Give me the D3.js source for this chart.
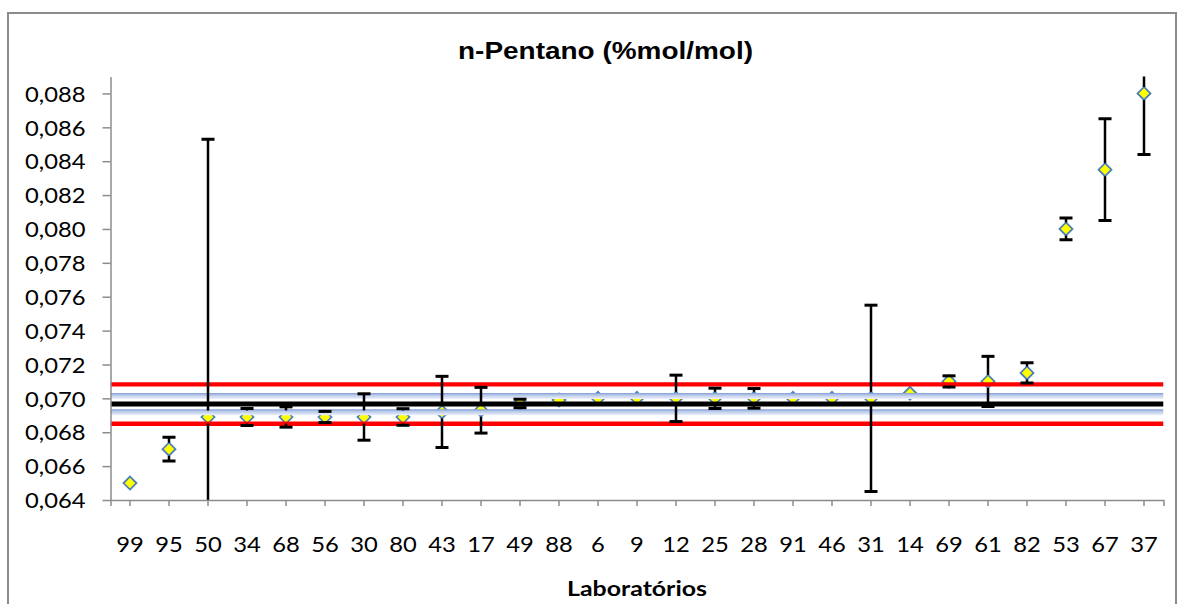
<!DOCTYPE html>
<html>
<head>
<meta charset="utf-8">
<script src="https://cdn.jsdelivr.net/npm/d3@7"></script>
<style>
  html, body { margin: 0; padding: 0; background: #fff; }
  svg { display: block; }
</style>
</head>
<body>
<svg id="chart" width="1178" height="604"></svg>
<script>
// Laboratory codes in plotted order
const labs = ["99","95","50","34","68","56","30","80","43","17","49","88","6","9","12",
              "25","28","91","46","31","14","69","61","82","53","67","37"];
// Reported n-pentane results (%mol/mol)
const results = [0.0650,0.0670,0.0689,0.0689,0.0689,0.0689,0.0689,0.0689,0.0692,0.0693,
                 0.0697,0.0699,0.0700,0.0700,0.0700,0.0700,0.0700,0.0700,0.0700,0.0700,
                 0.0703,0.0710,0.0710,0.0715,0.0800,0.0835,0.0880];
// Expanded uncertainty of each result
const uncert = [0,0.0007,0.0164,0.0005,0.0006,0.00033,0.00137,0.00049,0.0021,0.00135,
                0.00025,0,0,0,0.00137,0.0006,0.00058,0,0,0.0055,
                0,0.00033,0.00148,0.0006,0.00064,0.0030,0.0036];
// Assigned value and its limits
const refMean = 0.06966;
const refInner = [0.06918, 0.07014];
const refOuter = [0.0685, 0.07082];
// Axis ticks
const yTicks = [0.064,0.066,0.068,0.070,0.072,0.074,0.076,0.078,0.080,0.082,0.084,0.086,0.088];
const yDomain = [0.064, 0.089];

const svg = d3.select("#chart");
const plot = { left: 110.5, right: 1163.5, top: 76.5, bottom: 500 };

const x = d3.scaleBand().domain(labs).range([plot.left, plot.right]).padding(0);
const y = d3.scaleLinear().domain(yDomain).range([plot.bottom, plot.top]);
const cx = d => x(d) + x.bandwidth() / 2;

// Outer chart frame
svg.append("rect")
  .attr("x", 8).attr("y", 13).attr("width", 1168).attr("height", 640)
  .attr("fill", "#fff").attr("stroke", "#8c8c8c").attr("stroke-width", 2);

const defs = svg.append("defs");
defs.append("clipPath").attr("id", "plotClip")
  .append("rect")
  .attr("x", plot.left).attr("y", plot.top)
  .attr("width", plot.right - plot.left).attr("height", plot.bottom - plot.top);
const grad = defs.append("linearGradient").attr("id", "limitGrad")
  .attr("x1", 0).attr("y1", 0).attr("x2", 0).attr("y2", 1);
grad.append("stop").attr("offset", "0%").attr("stop-color", "#7f9cd2");
grad.append("stop").attr("offset", "35%").attr("stop-color", "#b7c8ea");
grad.append("stop").attr("offset", "100%").attr("stop-color", "#eef2fa");

// Title
svg.append("text")
  .attr("x", 605.5).attr("y", 59)
  .attr("text-anchor", "middle")
  .attr("font-family", "Liberation Sans, Arial, sans-serif")
  .attr("font-weight", "bold").attr("font-size", 23)
  .attr("textLength", 295).attr("lengthAdjust", "spacingAndGlyphs")
  .text("n-Pentano (%mol/mol)");

// Axis title
svg.append("text")
  .attr("x", 637).attr("y", 596)
  .attr("text-anchor", "middle")
  .attr("font-family", "Lato, sans-serif")
  .attr("font-weight", "bold").attr("font-size", 20)
  .attr("textLength", 140).attr("lengthAdjust", "spacingAndGlyphs")
  .text("Laboratórios");

const marks = svg.append("g").attr("clip-path", "url(#plotClip)");

// Result markers
const half = 6.5;
marks.append("g").selectAll("path")
  .data(labs)
  .join("path")
  .attr("transform", (d, i) => `translate(${cx(d)},${y(results[i])})`)
  .attr("d", `M0,${-half}L${half},0L0,${half}L${-half},0Z`)
  .attr("fill", "#ffff00")
  .attr("stroke", "#4a7ebb")
  .attr("stroke-width", 1.75);

// Limit lines
const lineX1 = plot.left, lineX2 = plot.right;
marks.append("g").selectAll("rect")
  .data(refInner)
  .join("rect")
  .attr("x", lineX1).attr("width", lineX2 - lineX1)
  .attr("y", d => y(d) - 3).attr("height", 6)
  .attr("fill", "url(#limitGrad)");
marks.append("g").selectAll("line")
  .data(refOuter)
  .join("line")
  .attr("x1", lineX1).attr("x2", lineX2)
  .attr("y1", d => y(d)).attr("y2", d => y(d))
  .attr("stroke", "#ff0000").attr("stroke-width", 4.3);
marks.append("line")
  .attr("x1", lineX1).attr("x2", lineX2)
  .attr("y1", y(refMean)).attr("y2", y(refMean))
  .attr("stroke", "#000").attr("stroke-width", 5);

// Uncertainty bars (stems stop at the marker edge)
const eb = marks.append("g").attr("stroke", "#000");
labs.forEach((d, i) => {
  const u = uncert[i];
  if (!u) return;
  const xc = cx(d), yc = y(results[i]);
  const yt = y(results[i] + u), yb = y(results[i] - u);
  if (yc - yt > half) {
    eb.append("line").attr("x1", xc).attr("x2", xc)
      .attr("y1", yt).attr("y2", yc - half).attr("stroke-width", 2.5);
    eb.append("line").attr("x1", xc).attr("x2", xc)
      .attr("y1", yc + half).attr("y2", yb).attr("stroke-width", 2.5);
  }
  [yt, yb].forEach(v => {
    eb.append("line").attr("x1", xc - 6.5).attr("x2", xc + 6.5)
      .attr("y1", v).attr("y2", v).attr("stroke-width", 3);
  });
});

// Axes
const fmt = v => d3.format(".3f")(v).replace(".", ",");
const yAxis = svg.append("g")
  .attr("transform", `translate(${plot.left},0)`)
  .call(d3.axisLeft(y).tickValues(yTicks).tickFormat(fmt)
        .tickSize(8).tickSizeOuter(0).tickPadding(17));
const xAxis = svg.append("g")
  .attr("transform", `translate(0,${plot.bottom})`)
  .call(d3.axisBottom(x).tickSize(6).tickSizeOuter(6).tickPadding(30));

[yAxis, xAxis].forEach(g => {
  g.selectAll("path, line").attr("stroke", "#8c8c8c").attr("stroke-width", 1.5);
  g.selectAll("text")
    .attr("fill", "#000")
    .attr("font-family", "Lato, sans-serif")
    .attr("font-size", 22)
    .attr("lengthAdjust", "spacingAndGlyphs")
    .attr("textLength", function () { return this.getComputedTextLength() * 1.08; });
});
yAxis.selectAll("text").attr("dy", "0.35em");
</script>
</body>
</html>
